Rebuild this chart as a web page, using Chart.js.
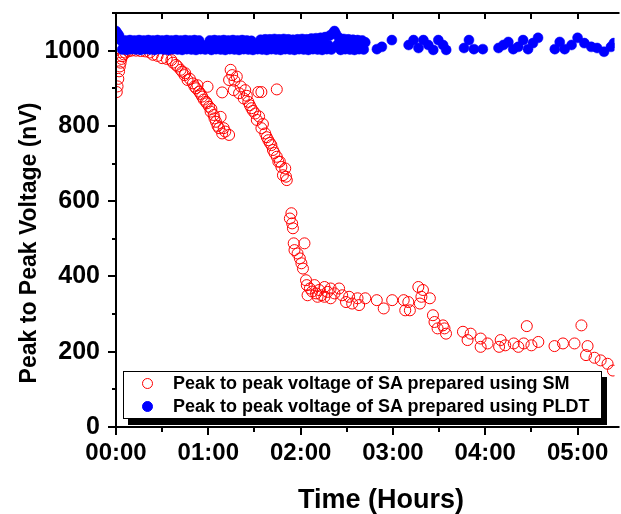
<!DOCTYPE html>
<html>
<head>
<meta charset="utf-8">
<script src="https://cdn.jsdelivr.net/npm/chart.js@4/dist/chart.umd.min.js"></script>
<style>
  body { margin: 0; background: #fff; }
  #wrap { position: relative; width: 621px; height: 514px; overflow: hidden; }
  #grafico { display: block; }
  #leyenda {
    position: absolute; left: 123px; top: 371px; width: 477px; height: 46px;
    border: 1px solid #000; background: #fff; box-shadow: 5px 6px 0 #000;
    font: bold 18px "Liberation Sans", Arial, sans-serif; color: #000;
  }
  .item { position: absolute; left: 0; height: 23px; line-height: 23px; white-space: nowrap; }
  .item .marca { position: absolute; left: 18px; top: 6px; width: 11px; height: 11px; border-radius: 50%; box-sizing: border-box; }
  .item span { position: absolute; left: 49px; }
</style>
</head>
<body>
<div id="wrap">
  <canvas id="grafico" width="621" height="514"></canvas>
  <div id="leyenda"></div>
</div>
<script>
// Tiempo en minutos desde el inicio, voltaje en nV
const smTiempos = [0.5, 1, 1.5, 2, 2.5, 3, 3.5, 4, 5, 6, 8, 10, 13, 16, 19, 22, 24, 27, 30, 33,
  36, 37, 39, 40, 42, 43, 44.5, 45, 46.5, 48, 50, 51, 52, 53, 54, 55, 56, 57, 58.5, 59.5,
  59, 60.5, 61.5, 62, 63.5, 64, 65, 66, 67, 68, 69, 69, 70, 71, 73.5,
  73.5, 74.5, 75.5, 76.5, 77, 78.5, 80, 81, 83, 84, 85, 86, 87, 88, 89, 90.5, 91.5, 92.5, 94.5,
  93, 94.5, 95.5, 97, 98, 99, 100, 101, 102, 103, 104.5, 104.5, 105.5, 106.5, 107.5, 108.5, 110, 111, 110.5,
  113, 114, 114.5, 115, 115.5, 116, 118, 119.5, 120.5, 121.5, 122.5, 123.5, 124, 124.5, 126, 127.5,
  129, 130, 131, 132, 133.5, 135.5, 135.5, 137.5, 139.5, 139.5, 142, 145, 147, 149.5, 151.5, 153.5,
  157, 158, 162, 169.5, 174, 179.5, 187, 188, 190, 191, 196.5, 197.5, 198.5, 199.5, 204, 206, 207,
  209, 212.5, 213.5, 214.5, 225.5, 228.5, 230.5, 237, 237, 241.5, 249, 250, 253, 258.5, 261.5, 265,
  267, 270, 274.5, 285, 290.5, 298, 302.5, 305.5, 306.5, 311, 315, 319.5, 323];
const smVoltajes = [890, 905, 925, 945, 958, 968, 978, 985, 990, 995, 998, 1000, 1000, 999, 998, 995, 989, 986, 980, 978,
  975, 968, 962, 958, 949, 944, 935, 940, 922, 925, 913, 905, 900, 908, 891, 885, 878, 870, 864, 904,
  860, 851, 838, 845, 829, 820, 811, 800, 794, 824, 780, 889, 794, 785, 776,
  922, 949, 935, 895, 920, 931, 887, 905, 873, 895, 880, 864, 855, 847, 840, 833, 816, 890, 890,
  825, 794, 805, 780, 770, 762, 755, 749, 736, 728, 718, 897, 705, 705, 691, 669, 687, 656, 665,
  554, 568, 541, 528, 488, 470, 461, 448, 435, 421, 488, 390, 377, 350, 368, 360,
  377, 355, 346, 364, 350, 372, 346, 359, 368, 342, 355, 368, 350, 332, 346, 328,
  342, 324, 342, 337, 315, 337, 337, 310, 332, 310, 372, 328, 346, 364, 342, 297, 279,
  262, 270, 262, 248, 253, 231, 248, 235, 213, 222, 213, 231, 217, 222, 213, 222,
  268, 217, 226, 215, 222, 222, 270, 191, 215, 184, 177, 168, 150];

const pldtTiempos = [0, 1, 2, 3, 4, 5, 6, 7, 8, 9, 10, 11, 12, 13, 14, 15, 16, 17, 18, 19,
  20, 21, 22, 23, 24, 25, 26, 27, 28, 29, 30, 31, 32, 33, 34, 35, 36, 37, 38, 39,
  40, 41, 42, 43, 44, 45, 46, 47, 48, 49, 50, 51, 52, 53, 54, 55, 56, 57, 58, 59,
  60, 61, 62, 63, 64, 65, 66, 67, 68, 69, 70, 71, 72, 73, 74, 75, 76, 77, 78, 79,
  80, 81, 82, 83, 84, 85, 86, 87, 88, 89, 90, 91, 92, 93, 94, 95, 96, 97, 98, 99,
  100, 101, 102, 103, 104, 105, 106, 107, 108, 109, 110, 111, 112, 113, 114, 115, 116, 117, 118, 119,
  120, 121, 122, 123, 124, 125, 126, 127, 128, 129, 130, 131, 132, 133, 134, 135, 136, 137, 138, 139,
  140, 141, 142, 143, 144, 145, 146, 147, 148, 149, 150, 151, 152, 153, 154, 155, 156, 157, 158, 159,
  160, 161, 162,
  169.6, 172.8, 179.3, 190.2, 193.4, 196.6, 199.8, 203, 206.2, 209.5, 212.6, 214.6,
  226.2, 229.4, 232.6, 238.4, 248.6, 251.8, 255, 258.2, 261.4, 264.6, 267.8, 271, 274.3,
  285.2, 288.4, 291.6, 296.1, 300, 304.4, 308.9, 312.7, 317.2, 321.7, 323.6];
const pldtVoltajes = [1052, 1046, 1040, 1028, 1003, 1016, 1027, 1002, 1015, 1028, 1004, 1016, 1027, 1003, 1015, 1028, 1002, 1016, 1027, 1004,
  1015, 1028, 1003, 1016, 1027, 1002, 1015, 1028, 1004, 1016, 1027, 1003, 1015, 1028, 1002, 1016, 1027, 1004, 1015, 1028,
  1003, 1016, 1027, 1002, 1015, 1028, 1004, 1016, 1027, 1003, 1015, 1028, 1002, 1016, 1027, 1004, 1015, 1012, 1003, 1010,
  1014, 1027, 1002, 1016, 1028, 1004, 1015, 1027, 1003, 1016, 1028, 1002, 1015, 1027, 1004, 1016, 1028, 1003, 1015, 1027,
  1002, 1016, 1028, 1004, 1015, 1027, 1003, 1016, 1026, 1002, 1012, 1009, 1004, 1016, 1029, 1003, 1015, 1030, 1002, 1016,
  1030, 1004, 1015, 1031, 1003, 1016, 1030, 1002, 1015, 1031, 1004, 1016, 1030, 1003, 1015, 1029, 1002, 1016, 1030, 1004,
  1015, 1031, 1003, 1016, 1030, 1002, 1015, 1032, 1004, 1016, 1033, 1003, 1015, 1034, 1002, 1016, 1036, 1004, 1015, 1040,
  1003, 1046, 1052, 1044, 1016, 1034, 1002, 1015, 1031, 1004, 1016, 1030, 1003, 1015, 1029, 1002, 1016, 1028, 1004, 1015,
  1027, 1003, 1022,
  1004, 1010, 1028, 1015, 1028, 1007, 1028, 1015, 1002, 1028, 1015, 1002,
  1007, 1028, 1004, 1004, 1007, 1015, 1023, 1004, 1010, 1028, 1004, 1020, 1034,
  1004, 1023, 1004, 1015, 1034, 1020, 1010, 1007, 997, 1010, 1020];

const etiquetasHoras = ["00:00", "01:00", "02:00", "03:00", "04:00", "05:00"];
const ticksMinutos = [0, 30, 60, 90, 120, 150, 180, 210, 240, 270, 300];
const ticksVoltaje = [0, 100, 200, 300, 400, 500, 600, 700, 800, 900, 1000, 1100];

const nombreSM = "Peak to peak voltage of SA prepared using SM";
const nombrePLDT = "Peak to peak voltage of SA prepared using PLDT";
const tituloX = "Time (Hours)";
const tituloY = "Peak to Peak Voltage (nV)";

const fuente = '"Liberation Sans", Arial, sans-serif';

const aPuntos = (xs, ys) => xs.map((x, i) => ({ x, y: ys[i] }));

// Marco, marcas de los ejes y títulos
const marcoPlugin = {
  id: "marco",
  afterDatasetsDraw(chart) {
    const { ctx, chartArea: a, scales } = chart;
    ctx.save();
    ctx.strokeStyle = "#000";
    ctx.lineWidth = 2;
    ctx.beginPath();
    ctx.moveTo(a.left, a.top);
    ctx.lineTo(a.left, a.bottom);
    ctx.moveTo(a.left, a.top);
    ctx.lineTo(a.right + 5, a.top);
    ctx.moveTo(a.left - 1, a.bottom);
    ctx.lineTo(a.right + 5, a.bottom);
    ticksMinutos.forEach((m) => {
      const px = Math.round(scales.x.getPixelForValue(m));
      const largo = m % 60 === 0 ? 8 : 5;
      ctx.moveTo(px, a.bottom);
      ctx.lineTo(px, a.bottom + largo);
      ctx.moveTo(px, a.top);
      ctx.lineTo(px, a.top + 6);
    });
    ticksVoltaje.forEach((v) => {
      const py = Math.round(scales.y.getPixelForValue(v));
      const largo = v % 200 === 0 ? 8 : 4;
      ctx.moveTo(a.left, py);
      ctx.lineTo(a.left - largo, py);
    });
    ctx.stroke();

    ctx.fillStyle = "#000";
    ctx.font = `bold 27px ${fuente}`;
    ctx.textAlign = "center";
    ctx.textBaseline = "alphabetic";
    ctx.fillText(tituloX, 381, 508);

    ctx.translate(30, 243);
    ctx.rotate(-Math.PI / 2);
    ctx.font = `bold 23px ${fuente}`;
    ctx.textBaseline = "middle";
    ctx.fillText(tituloY, 0, 0);
    ctx.restore();
  },
};

const ctx = document.getElementById("grafico").getContext("2d");
const miGrafico = new Chart(ctx, {
  type: "scatter",
  data: {
    datasets: [
      {
        label: nombreSM,
        data: aPuntos(smTiempos, smVoltajes),
        borderColor: "#ff0000",
        backgroundColor: "rgba(255, 0, 0, 0)",
        pointRadius: 5.5,
        pointBorderWidth: 1,
        order: 2,
      },
      {
        label: nombrePLDT,
        data: aPuntos(pldtTiempos, pldtVoltajes),
        borderColor: "#0000ff",
        backgroundColor: "#0000ff",
        pointRadius: 5,
        pointBorderWidth: 0.5,
        order: 1,
      },
    ],
  },
  options: {
    responsive: false,
    animation: false,
    devicePixelRatio: 1,
    layout: { padding: { top: 13, right: 0, left: 0, bottom: 0 } },
    plugins: {
      legend: { display: false },
      tooltip: { enabled: false },
    },
    scales: {
      x: {
        type: "linear",
        min: 0,
        max: 324,
        grid: { display: false, drawTicks: false },
        border: { display: false },
        afterBuildTicks: (s) => { s.ticks = ticksMinutos.map((value) => ({ value })); },
        afterFit: (s) => { s.height = 87; },
        ticks: {
          autoSkip: false,
          maxRotation: 0,
          padding: 12,
          color: "#000",
          font: { family: fuente, size: 24, weight: "bold" },
          callback: (v) => (v % 60 === 0 ? etiquetasHoras[v / 60] : ""),
        },
      },
      y: {
        min: 0,
        max: 1100,
        grid: { display: false, drawTicks: false },
        border: { display: false },
        afterBuildTicks: (s) => { s.ticks = ticksVoltaje.map((value) => ({ value })); },
        afterFit: (s) => {
          s.width = 116;
          s.paddingTop = 0;
        },
        ticks: {
          autoSkip: false,
          padding: 16,
          color: "#000",
          font: { family: fuente, size: 25, weight: "bold" },
          callback: (v) => (v % 200 === 0 && v <= 1000 ? v : ""),
        },
      },
    },
  },
  plugins: [marcoPlugin],
});

// Leyenda en HTML a partir de los datasets del gráfico
const leyenda = document.getElementById("leyenda");
miGrafico.data.datasets.forEach((ds, i) => {
  const item = document.createElement("div");
  item.className = "item";
  item.style.top = `${i * 23}px`;
  const marca = document.createElement("div");
  marca.className = "marca";
  marca.style.border = `1px solid ${ds.borderColor}`;
  marca.style.background = ds.backgroundColor;
  const texto = document.createElement("span");
  texto.textContent = ds.label;
  item.appendChild(marca);
  item.appendChild(texto);
  leyenda.appendChild(item);
});
</script>
</body>
</html>
